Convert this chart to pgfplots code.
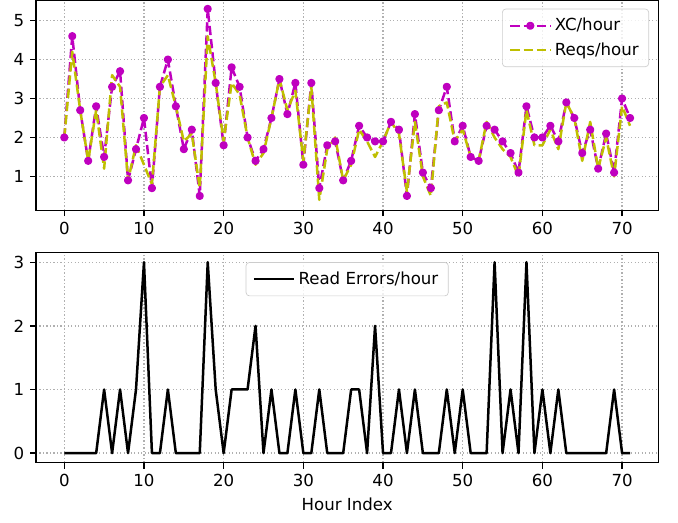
\documentclass[border=0pt]{standalone}
\usepackage{fontspec}
\setmainfont{DejaVu Sans}
\usepackage{pgfplots}
\usepackage{pgfplotstable}
\pgfplotsset{compat=1.18}

\definecolor{mplm}{RGB}{191,0,191}
\definecolor{mply}{RGB}{191,191,0}
\definecolor{gridc}{RGB}{176,176,176}

% hour, XC/hour, Reqs/hour, Read Errors/hour
\pgfplotstableread{
h  xc   reqs err
0  2.0  2.0  0
1  4.6  4.2  0
2  2.7  2.7  0
3  1.4  1.4  0
4  2.8  2.7  0
5  1.5  1.2  1
6  3.3  3.6  0
7  3.7  3.3  1
8  0.9  0.9  0
9  1.7  1.8  1
10 2.5  1.3  3
11 0.7  0.8  0
12 3.3  3.3  0
13 4.0  3.6  1
14 2.8  2.8  0
15 1.7  1.9  0
16 2.2  2.1  0
17 0.5  0.7  0
18 5.3  4.6  3
19 3.4  3.4  1
20 1.8  1.9  0
21 3.8  3.4  1
22 3.3  3.1  1
23 2.0  2.0  1
24 1.4  1.3  2
25 1.7  1.6  0
26 2.5  2.5  1
27 3.5  3.5  0
28 2.6  2.7  0
29 3.4  3.2  1
30 1.3  1.4  0
31 3.4  3.3  0
32 0.7  0.4  1
33 1.8  1.7  0
34 1.9  2.0  0
35 0.9  0.9  0
36 1.4  1.3  1
37 2.3  2.2  1
38 2.0  1.9  0
39 1.9  1.5  2
40 1.9  1.9  0
41 2.4  2.4  0
42 2.2  2.1  1
43 0.5  0.6  0
44 2.6  2.4  1
45 1.1  1.0  0
46 0.7  0.5  0
47 2.7  2.8  0
48 3.3  2.9  1
49 1.9  1.9  0
50 2.3  2.2  1
51 1.5  1.5  0
52 1.4  1.4  0
53 2.3  2.4  0
54 2.2  2.0  3
55 1.9  1.7  0
56 1.6  1.5  1
57 1.1  1.0  0
58 2.8  2.7  3
59 2.0  1.8  0
60 2.0  1.8  1
61 2.3  2.2  0
62 1.9  1.7  1
63 2.9  2.9  0
64 2.5  2.5  0
65 1.6  1.4  0
66 2.2  2.4  0
67 1.2  1.2  0
68 2.1  2.0  0
69 1.1  1.0  1
70 3.0  2.8  0
71 2.5  2.3  0
}\hourly

\pgfplotsset{
  mpl/.style={
    scale only axis,
    width=373.4bp,
    height=126bp,
    xmin=-3.55, xmax=74.55,
    xtick={0,10,...,70},
    axis line style={line width=0.8bp},
    tick align=outside, tick pos=left,
    major tick length=3.5bp,
    tick style={line width=0.8bp, black},
    tick label style={font=\fontsize{10}{12}\selectfont},
    label style={font=\fontsize{10}{12}\selectfont},
    /pgf/number format/assume math mode=true,
    grid=major,
    major grid style={gridc, line width=0.8bp, dash pattern=on 0.8bp off 1.3bp},
    legend cell align=left,
    legend style={font=\fontsize{10}{12}\selectfont, draw=black!20,
      rounded corners=2bp, fill=white, fill opacity=0.8, text opacity=1,
      inner xsep=4bp, inner ysep=3.5bp, row sep=1.5bp},
    legend image code/.code={
      \draw[mark repeat=2, mark phase=2, #1]
        plot coordinates {(0bp,0bp) (12bp,0bp) (24bp,0bp)};},
    every axis plot/.append style={line join=round},
  },
}

\begin{document}
\begin{tikzpicture}
\path[use as bounding box] (0,0) rectangle (406.8bp,313.8bp);

\begin{axis}[mpl, at={(21.6bp,187.6bp)}, anchor=south west,
  ymin=0.13, ymax=5.52, ytick={1,2,3,4,5},
  legend style={at={(0.985,0.96)}, anchor=north east}]
\addplot[mplm, line width=1.5bp, dash pattern=on 5.55bp off 2.4bp,
  mark=*, mark size=1.7bp, mark options={solid}]
  table[x=h, y=xc] {\hourly};
\addlegendentry{XC/hour}
\addplot[mply, line width=1.5bp, dash pattern=on 5.55bp off 2.4bp]
  table[x=h, y=reqs] {\hourly};
\addlegendentry{Reqs/hour}
\end{axis}

\begin{axis}[mpl, at={(21.6bp,36.2bp)}, anchor=south west,
  ymin=-0.15, ymax=3.15, ytick={0,1,2,3},
  xlabel={Hour Index},
  legend style={at={(0.5,0.955)}, anchor=north}]
\addplot[black, line width=1.5bp] table[x=h, y=err] {\hourly};
\addlegendentry{Read Errors/hour}
\end{axis}
\end{tikzpicture}
\end{document}
